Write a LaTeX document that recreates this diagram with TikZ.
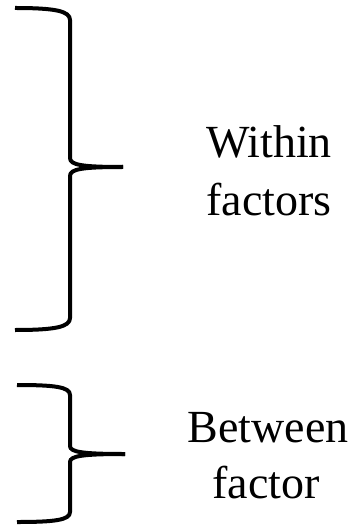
\documentclass[tikz,border=0pt]{standalone}
\usepackage{fontspec}
\setmainfont{Liberation Serif}
\begin{document}
\begin{tikzpicture}[x=1pt,y=-1pt,
  bracepath/.style={line width=4pt, line cap=butt, line join=round},
  lbl/.style={anchor=base, inner sep=0pt, font=\fontsize{46}{56}\selectfont}]
\useasboundingbox (0,0) rectangle (360,526);
% upper brace
\draw[bracepath] (15,8) .. controls (55,8) and (70,11) .. (70,20) -- (70,158)
  .. controls (70,165) and (82,167) .. (123,167);
\draw[bracepath] (123,167) .. controls (82,167) and (70,169) .. (70,176) -- (70,318)
  .. controls (70,327) and (55,330) .. (15,330);
% lower brace
\draw[bracepath] (17,385) .. controls (55,385) and (70,387) .. (70,395) -- (70,446)
  .. controls (70,452) and (82,454) .. (125,454);
\draw[bracepath] (125,454) .. controls (82,454) and (70,456) .. (70,462) -- (70,512)
  .. controls (70,520) and (55,522) .. (17,522);
% labels
\node[lbl] (w1) at (269,158) {Within};
\node[lbl] (w2) at (269,215) {factors};
\node[lbl] (b1) at (268,442) {Between};
\node[lbl] (b2) at (266,498) {factor};
\end{tikzpicture}
\end{document}
